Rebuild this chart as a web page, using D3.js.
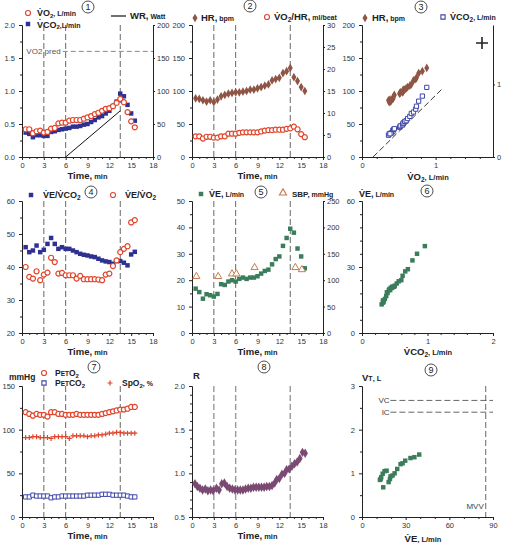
<!DOCTYPE html>
<html><head><meta charset="utf-8">
<script src="https://cdn.jsdelivr.net/npm/d3@7"></script>
<style>body{margin:0;background:#fff} svg{display:block} text{font-family:"Liberation Sans",Arial,sans-serif}</style>
</head><body><svg id="c" width="519" height="545"></svg>
<script>
// ---------- data ----------
const time = [0.5,1,1.5,2,2.5,3,3.5,4,4.5,5,5.5,6,6.5,7,7.5,8,8.5,9,9.5,10,10.5,11,11.5,12,12.5,13,13.5,14,14.5,15,15.5];
const vo2 = [0.42,0.42,0.36,0.39,0.40,0.37,0.38,0.43,0.44,0.51,0.52,0.52,0.55,0.56,0.56,0.56,0.58,0.60,0.62,0.65,0.67,0.70,0.73,0.74,0.77,0.82,0.88,0.83,0.68,0.54,0.45];
const vco2 = [0.37,0.35,0.30,0.33,0.33,0.32,0.32,0.38,0.39,0.41,0.42,0.43,0.44,0.46,0.46,0.47,0.49,0.50,0.53,0.56,0.60,0.62,0.66,0.70,0.77,0.84,0.96,0.92,0.79,0.66,0.55];
const wrTime = [6, 13.5];
const wrWatt = [0, 70];
const hr = [89,88,86,84,86,83,87,92,94,96,97,98,98,99,100,102,102,104,106,108,110,116,118,120,127,130,135,121,115,106,100];
const vo2hr = [4.7,4.7,4.2,4.6,4.6,4.4,4.4,4.7,4.7,5.3,5.3,5.3,5.5,5.6,5.6,5.6,5.6,5.6,5.8,6.0,6.1,6.1,6.2,6.2,6.2,6.4,6.5,6.9,6.3,5.2,4.5];
const veVco2 = [46,44.5,45,46.5,44.5,45.2,47,48.8,47,45.5,46,45.5,45.5,45,44.5,44,43.7,43.5,43.2,43,42.5,42,41.7,41.5,41,41.8,41.8,41.3,40.5,43.8,44.6];
const veVo2 = [40,37,36.5,38.7,36,37.7,38.3,42.8,41.5,38,38.2,37.5,37.5,37.5,36.5,37.3,36.3,36.3,36.3,36.3,36.2,36,37.7,38,40.3,42,44.5,45.5,46.3,53.5,54.2];
const ve = [16.8,15.5,13,14.7,14.3,13.8,14.8,18.5,18.2,19.5,20,19.5,20.5,21,20.5,21,21,21.5,22.5,23.5,24,26,28,29,33,36,39.5,38,32,29,24.5];
const sbpTime = [0.6,3.6,5.5,6.1,8.6,14.2,15.1];
const sbp = [107,107,112,112,124,124,120];
const peto2 = [120,118,116,118,117,117,115,120,120,118,118,117,117,117,118,117,117,117,117,117,117,118,119,120,121,122,123,123,124,126,126];
const petco2 = [23,23,25,24,24,24,24,22,23,23,24,24,24,24,24,24,24,25,25,25,25,26,26,26,25,25,25,25,24,23,23];
const spo2 = [91,91,92,92,91,91,91,90,92,92,92,92,90,93,93,93,93,92,93,93,94,94,95,96,96,97,97,96,96,96,96];
const rTime = [0.41,0.73,1.09,1.45,1.82,2.18,2.55,2.91,3.36,3.73,4.09,4.45,4.82,5.18,5.55,5.91,6.27,6.64,7.0,7.36,7.73,8.09,8.45,8.82,9.18,9.55,9.91,10.27,10.64,11.0,11.36,11.64,12.0,12.36,12.73,13.0,13.36,13.73,14.09,14.45,14.82,15.18,15.55];
const rValue = [0.88,0.85,0.83,0.81,0.82,0.80,0.81,0.80,0.83,0.81,0.88,0.89,0.85,0.83,0.82,0.81,0.81,0.81,0.81,0.82,0.83,0.83,0.84,0.84,0.84,0.84,0.84,0.85,0.85,0.86,0.89,0.93,0.94,0.99,1.00,1.04,1.05,1.08,1.11,1.13,1.17,1.24,1.23];
const vtVE = [14.6,12.3,12.8,13.2,14.2,15.5,16.9,18.3,19.2,19.6,21.0,22.4,24.2,26.5,27.9,29.7,33.3,36.0,39.3];
const vtVT = [0.68,0.85,0.87,0.91,0.99,1.05,1.06,0.80,0.87,0.93,0.95,1.00,1.10,1.21,1.23,1.29,1.35,1.37,1.43];
const phaseTimes = [3, 6, 13.5];
const vo2Pred = 1.6;
const slopeLineX = [0.15, 1.08];
const slopeLineY = [0, 0.93];
const vcValue = 2.67, icValue = 2.4, mvvValue = 85;
const peakIndex = 26;
const timeTicks = [0,3,6,9,12,15,18];

// ---------- helpers ----------
const svg = d3.select('#c');
const RED='#E0452B', NAVY='#2E3192', BROWN='#8E5444', GREEN='#3B7D5B', PURPLE='#7A4A72', ORANGE='#C47A4C', BLUE='#4047A8';
const colL=[22,192,362], rowT=[25,201,386], rowB=[157,333,517];

function styleAxis(sel){
  sel.select('.domain').attr('stroke','#222').attr('stroke-width',1);
  sel.selectAll('.tick line').attr('stroke','#222');
  sel.selectAll('.tick text').attr('fill','#333').attr('font-size',7.5).attr('font-family','Liberation Sans, Arial, sans-serif');
}
function panel(col,row,xDom,yDom,xTicks,yTicks,opt={}){
  const W=131, H=rowB[row]-rowT[row];
  const g=svg.append('g').attr('transform',`translate(${colL[col]},${rowT[row]})`);
  const x=d3.scaleLinear().domain(xDom).range([0,W]);
  const y=d3.scaleLinear().domain(yDom).range([H,0]);
  if(opt.xMinor) g.append('g').attr('transform',`translate(0,${H})`).call(d3.axisBottom(x).tickValues(opt.xMinor).tickSize(2).tickFormat('').tickSizeOuter(0)).call(styleAxis);
  if(opt.yMinor) g.append('g').call(d3.axisLeft(y).tickValues(opt.yMinor).tickSize(2).tickFormat('').tickSizeOuter(0)).call(styleAxis);
  g.append('g').attr('transform',`translate(0,${H})`).call(d3.axisBottom(x).tickValues(xTicks).tickSize(3).tickPadding(3).tickSizeOuter(0).tickFormat(opt.xFmt||d3.format('d'))).call(styleAxis);
  g.append('g').call(d3.axisLeft(y).tickValues(yTicks).tickSize(3).tickPadding(4).tickSizeOuter(0).tickFormat(opt.yFmt||d3.format('d'))).call(styleAxis);
  let y2=null;
  if(opt.y2Dom){
    y2=d3.scaleLinear().domain(opt.y2Dom).range([H,0]);
    g.append('g').attr('transform',`translate(${W},0)`).call(d3.axisRight(y2).tickValues(opt.y2Ticks).tickSize(2).tickPadding(2).tickSizeOuter(0).tickFormat(opt.y2Fmt||d3.format('d'))).call(styleAxis);
  }
  return {g,x,y,y2,W,H};
}
function phases(p){
  p.g.selectAll('.ph').data(phaseTimes).join('line').attr('x1',d=>p.x(d)).attr('x2',d=>p.x(d)).attr('y1',0).attr('y2',p.H)
    .attr('stroke','#555').attr('stroke-width',0.9).attr('stroke-dasharray','6,3');
}
function sym(g,xs,ys,type,size,color,filled,sw=1){
  g.append('g').selectAll('path').data(xs.map((d,i)=>[d,ys[i]])).join('path')
    .attr('transform',d=>`translate(${d[0]},${d[1]})`)
    .attr('d',d3.symbol().type(type).size(size)())
    .attr('fill',filled?color:'#fff').attr('stroke',color).attr('stroke-width',filled?0:sw);
}
function plus(g,xs,ys,color){
  g.append('g').selectAll('path').data(xs.map((d,i)=>[d,ys[i]])).join('path')
    .attr('transform',d=>`translate(${d[0]},${d[1]})`).attr('d','M-2.5,0H2.5M0,-2.5V2.5')
    .attr('stroke',color).attr('stroke-width',1.2).attr('fill','none');
}
function rich(x,y,parts,anchor='start'){
  const t=svg.append('text').attr('x',x).attr('y',y).attr('text-anchor',anchor).attr('fill','#222');
  let shift=0;
  parts.forEach(p=>{
    const s=t.append('tspan').text(p[0]).attr('font-size',p[1]).attr('font-weight',p[2]?'bold':'normal');
    const want=p[3]||0;
    if(want!==shift){ s.attr('dy',want-shift); shift=want; }
  });
  return t;
}
function circledNum(cx,cy,n){
  svg.append('circle').attr('cx',cx).attr('cy',cy).attr('r',6).attr('fill','#fff').attr('stroke','#222').attr('stroke-width',0.8);
  svg.append('text').attr('x',cx).attr('y',cy+3).attr('text-anchor','middle').attr('font-size',9).attr('font-family','Liberation Serif, serif').attr('fill','#222').text(n);
}
function legSym(x,y,type,size,color,filled){
  svg.append('path').attr('transform',`translate(${x},${y})`).attr('d',d3.symbol().type(type).size(size)())
    .attr('fill',filled?color:'#fff').attr('stroke',color).attr('stroke-width',filled?0:1.1);
}
const Vd='V\u0307';
function timeLabel(p,row,col){
  rich(colL[col]+p.W/2, rowB[row]+22, [['Time,',9.5,true],[' min',7.5,true]], 'middle');
}
const tMinor=[1,2,4,5,7,8,10,11,13,14,16,17];

// ---------- Panel 1 ----------
{
  const p=panel(0,0,[0,18],[0,2],timeTicks,[0,0.5,1,1.5,2],{yFmt:d3.format('.1f'),y2Dom:[0,200],y2Ticks:[0,50,100,150,200],xMinor:tMinor,yMinor:[0.25,0.75,1.25,1.75]});
  phases(p);
  p.g.append('line').attr('x1',p.x(5.6)).attr('x2',p.W).attr('y1',p.y(vo2Pred)).attr('y2',p.y(vo2Pred)).attr('stroke','#888').attr('stroke-width',1).attr('stroke-dasharray','5,3');
  p.g.append('text').attr('x',p.x(0.6)).attr('y',p.y(vo2Pred)+3).attr('font-size',8).attr('fill','#555').text('VO2 pred');
  p.g.append('path').datum(wrTime.map((d,i)=>[d,wrWatt[i]])).attr('d',d3.line().x(d=>p.x(d[0])).y(d=>p.y2(d[1]))).attr('stroke','#111').attr('stroke-width',1).attr('fill','none');
  sym(p.g,time.map(p.x),vco2.map(p.y),d3.symbolSquare,20,NAVY,true);
  sym(p.g,time.map(p.x),vo2.map(p.y),d3.symbolCircle,20,RED,false,1.2);
  legSym(28,13,d3.symbolCircle,20,RED,false);
  rich(37,16,[[Vd+'O',9,true],['2',6,true,1.5],[', L/min',7,true]]);
  legSym(28,24,d3.symbolSquare,20,NAVY,true);
  rich(37,27.5,[[Vd+'CO',9,true],['2',6,true,1.5],[',L/min',7,true]]);
  svg.append('line').attr('x1',111).attr('x2',126).attr('y1',16).attr('y2',16).attr('stroke','#111').attr('stroke-width',1.2);
  rich(130,19,[['WR,',9.5,true],[' Watt',7,true]]);
  timeLabel(p,0,0);
  circledNum(88,7,'1');
}
// ---------- Panel 2 ----------
{
  const p=panel(1,0,[0,18],[0,200],timeTicks,[0,50,100,150,200],{y2Dom:[0,30],y2Ticks:[0,5,10,15,20,25,30],xMinor:tMinor,yMinor:[25,75,125,175]});
  phases(p);
  sym(p.g,time.map(p.x),hr.map(p.y),d3.symbolDiamond,22,BROWN,true);
  sym(p.g,time.map(p.x),vo2hr.map(p.y2),d3.symbolCircle,20,RED,false,1.2);
  legSym(195,18,d3.symbolDiamond,22,BROWN,true);
  rich(201,21,[['HR,',9.5,true],[' bpm',7,true]]);
  legSym(267,17,d3.symbolCircle,20,RED,false);
  rich(274,20,[[Vd+'O',9.5,true],['2',6.5,true,2],['/HR,',9.5,true],[' ml/beat',7,true]]);
  timeLabel(p,0,1);
  circledNum(250,6,'2');
}
// ---------- Panel 3 ----------
{
  const p=panel(2,0,[0,1.78],[0,200],[0,1],[0,50,100,150,200],{y2Dom:[0,1.82],y2Ticks:[0,1],xMinor:[0.2,0.4,0.6,0.8,1.2,1.4,1.6],yMinor:[25,75,125,175]});
  const xs=vo2.slice(0,peakIndex+1), hs=hr.slice(0,peakIndex+1), cs=vco2.slice(0,peakIndex+1);
  p.g.append('line').attr('x1',p.x(slopeLineX[0])).attr('x2',p.x(slopeLineX[1])).attr('y1',p.y2(slopeLineY[0])).attr('y2',p.y2(slopeLineY[1]))
    .attr('stroke','#222').attr('stroke-width',0.9).attr('stroke-dasharray','6,3');
  sym(p.g,xs.map(p.x),hs.map(p.y),d3.symbolDiamond,22,BROWN,true);
  sym(p.g,xs.map(p.x),cs.map(p.y2),d3.symbolSquare,18,BLUE,false,1);
  svg.append('path').attr('d','M476,43H488M482,37V49').attr('stroke','#222').attr('stroke-width',1.6);
  legSym(365,18,d3.symbolDiamond,22,BROWN,true);
  rich(372,21,[['HR,',9.5,true],[' bpm',7,true]]);
  legSym(443,17,d3.symbolSquare,18,BLUE,false);
  rich(450,20,[[Vd+'CO',9,true],['2',6.5,true,2],[', L/min',7,true]]);
  rich(428,180,[[Vd+'O',9.5,true],['2',6.5,true,2],[', L/min',7.5,true]],'middle');
  circledNum(421,7,'3');
}
// ---------- Panel 4 ----------
{
  const p=panel(0,1,[0,18],[20,60],timeTicks,[20,30,40,50,60],{xMinor:tMinor,yMinor:[25,35,45,55]});
  phases(p);
  sym(p.g,time.map(p.x),veVco2.map(p.y),d3.symbolSquare,20,NAVY,true);
  sym(p.g,time.map(p.x),veVo2.map(p.y),d3.symbolCircle,20,RED,false,1.2);
  legSym(31,195,d3.symbolSquare,20,NAVY,true);
  rich(43,198,[[Vd+'E',9,true],['/'+Vd+'CO',9,true],['2',6.5,true,2]]);
  legSym(113,195,d3.symbolCircle,20,RED,false);
  rich(125,198,[[Vd+'E',9,true],['/'+Vd+'O',9,true],['2',6.5,true,2]]);
  timeLabel(p,1,0);
  circledNum(91,192,'4');
}
// ---------- Panel 5 ----------
{
  const p=panel(1,1,[0,18],[0,50],timeTicks,[0,10,20,30,40,50],{y2Dom:[0,250],y2Ticks:[0,50,100,150,200,250],xMinor:tMinor,yMinor:[5,15,25,35,45]});
  phases(p);
  sym(p.g,time.map(p.x),ve.map(p.y),d3.symbolSquare,20,GREEN,true);
  sym(p.g,sbpTime.map(p.x),sbp.map(p.y2),d3.symbolTriangle,22,ORANGE,false,1);
  legSym(201,194,d3.symbolSquare,20,GREEN,true);
  rich(209,197,[[Vd+'E,',9,true],[' L/min',7,true]]);
  legSym(283,193,d3.symbolTriangle,22,ORANGE,false);
  rich(292,197,[['SBP,',8,true],[' mmHg',7,true]]);
  timeLabel(p,1,1);
  circledNum(261,192,'5');
}
// ---------- Panel 6 ----------
{
  const p=panel(2,1,[0,2],[0,60],[0,1,2],[0,30,60],{xMinor:[0.2,0.4,0.6,0.8,1.2,1.4,1.6,1.8],yMinor:[6,12,18,24,36,42,48,54]});
  sym(p.g,vco2.slice(0,peakIndex+1).map(p.x),ve.slice(0,peakIndex+1).map(p.y),d3.symbolSquare,20,GREEN,true);
  rich(359,197,[[Vd+'E,',9,true],[' L/min',7,true]]);
  rich(428,355,[[Vd+'CO',9.5,true],['2',6.5,true,2],[', L/min',7.5,true]],'middle');
  circledNum(427,191,'6');
}
// ---------- Panel 7 ----------
{
  const p=panel(0,2,[0,18],[0,150],timeTicks,[0,50,100,150],{xMinor:tMinor,yMinor:[25,75,125]});
  phases(p);
  sym(p.g,time.map(p.x),petco2.map(p.y),d3.symbolSquare,18,BLUE,false,1);
  plus(p.g,time.map(p.x),spo2.map(p.y),RED);
  sym(p.g,time.map(p.x),peto2.map(p.y),d3.symbolCircle,20,RED,false,1.2);
  rich(9,380,[['mmHg',8.5,true]]);
  legSym(44,373,d3.symbolCircle,20,RED,false);
  rich(55,376,[['P',8.5,true],['ET',6.5,true],['O',8.5,true],['2',6,true,2]]);
  legSym(44,383,d3.symbolSquare,18,BLUE,false);
  rich(55,386,[['P',8.5,true],['ET',6.5,true],['CO',8.5,true],['2',6,true,2]]);
  svg.append('path').attr('d','M107.5,383H112.5M110,380.5V385.5').attr('stroke',RED).attr('stroke-width',1.2);
  rich(122,386,[['SpO',8.5,true],['2',6,true,2],[', %',7,true]]);
  timeLabel(p,2,0);
  circledNum(94,367,'7');
}
// ---------- Panel 8 ----------
{
  const p=panel(1,2,[0,18],[0.5,2],timeTicks,[0.5,1,1.5,2],{yFmt:d3.format('.1f'),xMinor:tMinor,yMinor:[0.6,0.7,0.8,0.9,1.1,1.2,1.3,1.4,1.6,1.7,1.8,1.9]});
  p.g.selectAll('.ph').data(phaseTimes).join('line').attr('x1',d=>p.x(d)).attr('x2',d=>p.x(d)).attr('y1',0).attr('y2',p.H)
    .attr('stroke','#999').attr('stroke-width',1.4).attr('stroke-dasharray','6,3');
  sym(p.g,rTime.map(p.x),rValue.map(p.y),d3.symbolDiamond,26,PURPLE,true);
  rich(193,379,[['R',9.5,true]]);
  timeLabel(p,2,1);
  circledNum(264,367,'8');
}
// ---------- Panel 9 ----------
{
  const p=panel(2,2,[0,90],[0,3],[0,30,60,90],[0,1,2,3],{xMinor:[10,20,40,50,70,80],yMinor:[0.5,1.5,2.5]});
  [vcValue,icValue].forEach(v=>{
    p.g.append('line').attr('x1',p.x(19.5)).attr('x2',p.W).attr('y1',p.y(v)).attr('y2',p.y(v)).attr('stroke','#555').attr('stroke-width',0.9).attr('stroke-dasharray','6,3');
  });
  p.g.append('line').attr('x1',p.x(mvvValue)).attr('x2',p.x(mvvValue)).attr('y1',0).attr('y2',p.H).attr('stroke','#555').attr('stroke-width',0.9).attr('stroke-dasharray','6,3');
  p.g.append('text').attr('x',p.x(19)).attr('y',p.y(vcValue)+3).attr('text-anchor','end').attr('font-size',8).attr('fill','#444').text('VC');
  p.g.append('text').attr('x',p.x(19)).attr('y',p.y(icValue)+3).attr('text-anchor','end').attr('font-size',8).attr('fill','#444').text('IC');
  p.g.append('text').attr('x',p.x(mvvValue)-2).attr('y',p.H-8).attr('text-anchor','end').attr('font-size',8).attr('fill','#444').text('MVV');
  sym(p.g,vtVE.map(p.x),vtVT.map(p.y),d3.symbolSquare,20,GREEN,true);
  rich(362,381,[['V',9.5,true],['T',7,true],[', L',7.5,true]]);
  rich(423,542,[[Vd+'E',9.5,true],[', L/min',7.5,true]],'middle');
  circledNum(431,370,'9');
}
</script></body></html>
